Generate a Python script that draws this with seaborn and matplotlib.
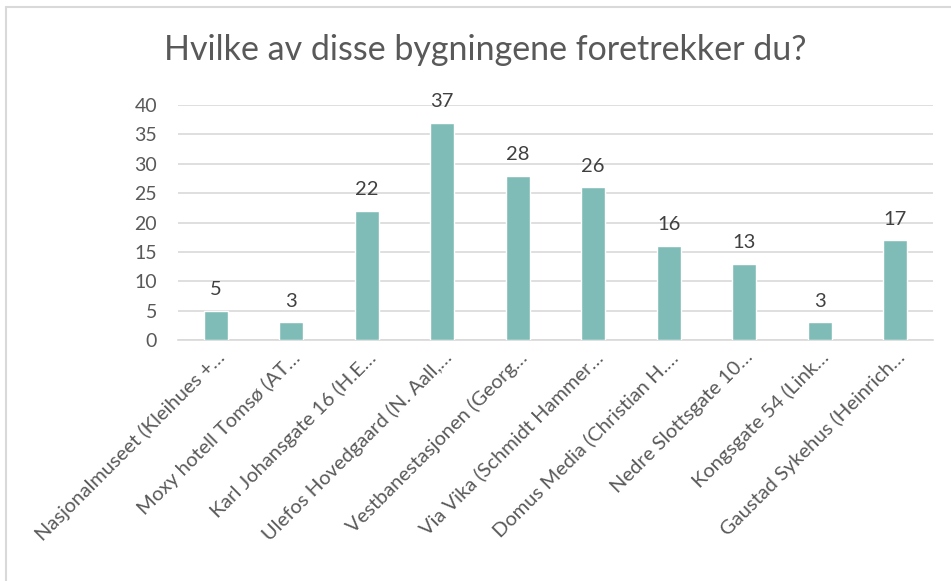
import matplotlib
matplotlib.use("Agg")
import matplotlib.pyplot as plt
import seaborn as sns
import pandas as pd
from matplotlib.lines import Line2D

buildings = [
    "Nasjonalmuseet (Kleihues +…",
    "Moxy hotell Tomsø (AT…",
    "Karl Johansgate 16 (H.E…",
    "Ulefos Hovedgaard (N. Aall,…",
    "Vestbanestasjonen (Georg…",
    "Via Vika (Schmidt Hammer…",
    "Domus Media (Christian H.…",
    "Nedre Slottsgate 10…",
    "Kongsgate 54 (Link…",
    "Gaustad Sykehus (Heinrich…",
]
votes = [5, 3, 22, 37, 28, 26, 16, 13, 3, 17]
y_ticks = [0, 5, 10, 15, 20, 25, 30, 35, 40]

df = pd.DataFrame({"bygning": buildings, "antall": votes})

sns.set_style("white")
plt.rcParams['font.family'] = ['Lato', 'DejaVu Sans']

text_col = "#595959"
grid_col = "#d9d9d9"
bar_col = "#7fbcb8"

fig = plt.figure(figsize=(9.51, 5.81), dpi=100)
ax = fig.add_axes([178 / 951, 1 - 340 / 581, (933 - 178) / 951, (340 - 105) / 581])

sns.barplot(data=df, x="bygning", y="antall", color=bar_col, width=0.32,
            saturation=1, ax=ax, zorder=3)

ax.set_ylim(0, 40)
ax.set_xlim(-0.5, len(buildings) - 0.5)
ax.set_yticks(y_ticks)
ax.yaxis.grid(True, color=grid_col, lw=1.2, zorder=0)
ax.set_axisbelow(True)
for s in ["top", "right", "left"]:
    ax.spines[s].set_visible(False)
ax.spines["bottom"].set_color(grid_col)
ax.spines["bottom"].set_linewidth(1.2)
ax.tick_params(axis="both", length=0, colors=text_col, labelsize=14)
ax.tick_params(axis="y", pad=15)
ax.tick_params(axis="x", pad=6)
ax.set_xlabel("")
ax.set_ylabel("")
plt.setp(ax.get_xticklabels(), rotation=45, ha="right", rotation_mode="anchor",
         fontsize=14.5, color=text_col)

for p, v in zip(ax.patches, votes):
    ax.annotate(str(v), (p.get_x() + p.get_width() / 2, v), xytext=(0, 9),
                textcoords="offset points", ha="center", va="bottom",
                fontsize=14.5, color="#404040")

fig.text(485 / 951, 1 - 50 / 581, "Hvilke av disse bygningene foretrekker du?",
         ha="center", va="center", fontsize=24.5, color=text_col)

# light chart border (top and left edges visible)
fig.add_artist(Line2D([5.5 / 951, 1], [1 - 6.5 / 581, 1 - 6.5 / 581],
                      transform=fig.transFigure, color=grid_col, lw=1.5))
fig.add_artist(Line2D([5.5 / 951, 5.5 / 951], [0, 1 - 6.5 / 581],
                      transform=fig.transFigure, color=grid_col, lw=1.5))

fig.savefig("out.png", dpi=100)
